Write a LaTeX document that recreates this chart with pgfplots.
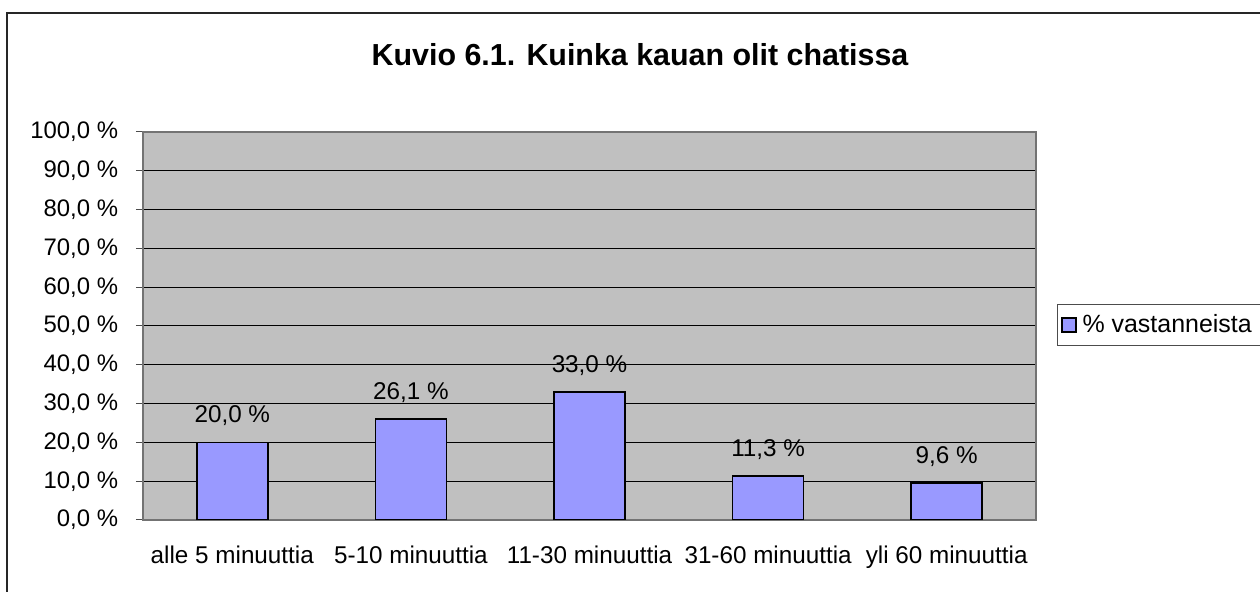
\documentclass[border=0pt]{standalone}
\usepackage{pgfplots}
\pgfplotsset{compat=1.18}
\usepackage{fontspec}
\setmainfont{Liberation Sans}
\definecolor{plotgray}{HTML}{C0C0C0}
\definecolor{barblue}{HTML}{9999FF}
\begin{document}
\fontsize{13.8pt}{16pt}\selectfont
\begin{tikzpicture}
\useasboundingbox (0,0) rectangle (25.2cm,11.84cm);
% outer chart frame (cut off at right and bottom)
\draw[line width=0.03cm, black!85] (0.14cm,-1cm) -- (0.14cm,11.58cm) -- (27cm,11.58cm);
\node[font=\fontsize{17.3pt}{20pt}\selectfont\bfseries] at (12.8cm,10.74cm) {Kuvio 6.1. Kuinka kauan olit chatissa};
\begin{axis}[
    /pgf/number format/assume math mode=true,
    scale only axis,
    width=17.86cm, height=7.76cm,
    at={(2.86cm,1.44cm)}, anchor=south west,
    axis background/.style={fill=plotgray},
    axis line style={draw=black!55, line width=0.03cm},
    xmin=-0.5, xmax=4.5,
    ymin=0, ymax=100,
    ytick={0,10,...,100},
    yticklabel={\pgfmathprintnumber[fixed,fixed zerofill,precision=1,use comma]{\tick}~\%},
    yticklabel style={font=\fontsize{13.6pt}{16pt}\selectfont, xshift=-0.19cm},
    ymajorgrids,
    grid style={black, line width=0.02cm},
    xtick={0,1,2,3,4},
    xticklabels={alle 5 minuuttia, 5-10 minuuttia, 11-30 minuuttia, 31-60 minuuttia, yli 60 minuuttia},
    major x tick style={draw=none},
    extra x ticks={-0.5,0.5,1.5,2.5,3.5,4.5},
    extra x tick labels={},
    extra x tick style={major tick length=0.16cm, tick style={draw=black!70, line width=0.02cm}},
    tick align=outside,
    major tick length=0.14cm,
    tick style={draw=black!70, line width=0.02cm},
    xtick pos=bottom, ytick pos=left,
    xticklabel style={yshift=-0.2cm},
    ybar, bar width=1.42cm,
    nodes near coords={\pgfmathprintnumber[fixed,fixed zerofill,precision=1,use comma]{\pgfplotspointmeta}~\%},
    nodes near coords style={yshift=0.15cm},
    legend style={at={(rel axis cs:1.0235,0.5026)}, anchor=west, draw=black!70, line width=0.02cm, inner xsep=2pt, inner ysep=3.5pt, font=\fontsize{14.2pt}{16pt}\selectfont},
    legend image code/.code={\draw[#1, line width=0.03cm] (0.1cm,-0.14cm) rectangle (0.38cm,0.14cm);},
]
\addplot[fill=barblue, draw=black, line width=0.035cm] coordinates {(0,20.0) (1,26.1) (2,33.0) (3,11.3) (4,9.6)};
\addlegendentry{\kern0.05cm\% vastanneista\rule{1.2cm}{0pt}}
\end{axis}
\end{tikzpicture}
\end{document}
